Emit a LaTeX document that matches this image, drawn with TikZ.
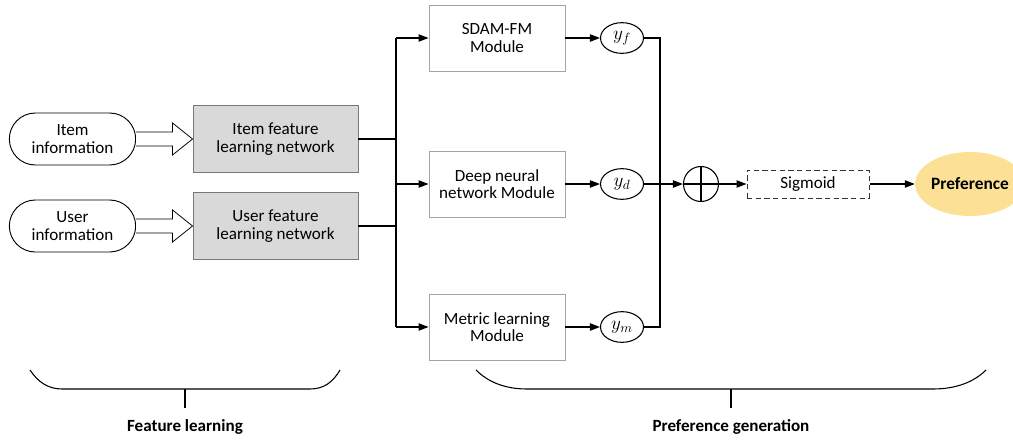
\documentclass[tikz,border=0pt]{standalone}
\usepackage{fontspec}
\setmainfont{Carlito}
\usetikzlibrary{arrows.meta,calc,shapes.geometric,shapes.misc}
\definecolor{featfill}{RGB}{217,217,217}
\definecolor{featdraw}{RGB}{120,120,120}
\definecolor{moddraw}{RGB}{165,165,165}
\definecolor{preffill}{RGB}{252,224,150}
\begin{document}
\begin{tikzpicture}[x=0.75pt,y=-0.75pt,
  txt/.style={font=\fontsize{12.8}{13.2}\selectfont, align=center},
  infobox/.style={txt, rounded rectangle, draw=black, line width=0.7pt, minimum width=96.75pt, minimum height=39pt, inner sep=1pt},
  featbox/.style={txt, rectangle, draw=featdraw, fill=featfill, line width=0.7pt, minimum width=123.75pt, minimum height=50.25pt},
  modbox/.style={txt, rectangle, draw=moddraw, fill=white, line width=0.7pt, minimum width=102pt, minimum height=49.5pt},
  outnode/.style={ellipse, draw=black, line width=0.8pt, minimum width=32.25pt, minimum height=23pt, inner sep=0pt, font=\fontsize{14}{14}\selectfont},
  conn/.style={line width=0.9pt, draw=black},
  arr/.style={conn, -{Triangle[length=7.5pt,width=5.5pt]}},
  hollow/.style={draw=black, fill=white, line width=0.6pt},
  brace/.style={line width=0.8pt, draw=black},
  lbl/.style={font=\bfseries\fontsize{12.8}{13}\selectfont}]
\useasboundingbox (0,0) rectangle (1013,439);

% left column
\node[infobox] (item) at (72.5,139) {Item\\information};
\node[infobox] (user) at (72.5,226) {User\\information};
\node[featbox] (itemf) at (275.5,139) {Item feature\\learning network};
\node[featbox] (userf) at (275.5,226) {User feature\\learning network};

% hollow arrows
\foreach \a/\b in {item/itemf,user/userf}{
  \draw[hollow] ($(\a.east)+(0,-7)$) -- ($(\b.west)+(-20,-7)$) -- ($(\b.west)+(-20,-16)$) -- (\b.west)
     -- ($(\b.west)+(-20,16)$) -- ($(\b.west)+(-20,7)$) -- ($(\a.east)+(0,7)$);
}

% modules
\node[modbox] (sdam) at (497,38) {SDAM-FM\\Module};
\node[modbox] (dnn) at (497,184) {Deep neural\\network Module};
\node[modbox] (metric) at (497,327) {Metric learning\\Module};

\node[outnode] (yf) at (622,38) {$y_f$};
\node[outnode] (yd) at (622,184) {$y_d$};
\node[outnode] (ym) at (622,327) {$y_m$};

\node[circle, draw=black, line width=0.8pt, minimum size=26.25pt, inner sep=0pt,
  path picture={\draw[line width=0.8pt] (path picture bounding box.north) -- (path picture bounding box.south)
     (path picture bounding box.west) -- (path picture bounding box.east);}] (sum) at (701,184) {};
\node[txt, rectangle, draw=black!80, dash pattern=on 4pt off 2.5pt, line width=0.75pt, minimum width=91.5pt, minimum height=21pt] (sig) at (808,184) {Sigmoid};
\node[ellipse, fill=preffill, minimum width=61.5pt, minimum height=48pt, inner sep=0pt, font=\bfseries\fontsize{13}{13}\selectfont] (pref) at (970,184) {Preference};

% buses
\coordinate (lb) at (396,0);
\coordinate (rb) at (660,0);
\draw[conn] (itemf.east) -- (itemf.east -| lb);
\draw[conn] (userf.east) -- (userf.east -| lb);
\draw[conn] (sdam.west -| lb) -- (metric.west -| lb);
\draw[arr] (sdam.west -| lb) -- (sdam.west);
\draw[arr] (dnn.west -| lb) -- (dnn.west);
\draw[arr] (metric.west -| lb) -- (metric.west);

\draw[arr] (sdam.east) -- (yf.west);
\draw[arr] (dnn.east) -- (yd.west);
\draw[arr] (metric.east) -- (ym.west);

\draw[conn] (yf.east) -- (yf.east -| rb) -- (ym.east -| rb) -- (ym.east);
\draw[arr] (yd.east) -- (sum.west);
\draw[arr] (sum.east) -- (sig.west);
\draw[arr] (sig.east) -- (pref.west);

% braces
\draw[brace] (30,370) .. controls (38,382) and (48,389) .. (62,389) -- (310,389) .. controls (324,389) and (333,382) .. (340,370);
\coordinate (lbm) at (185,389);
\coordinate (lbs) at (185,408);
\draw[brace] (lbm) -- (lbs);
\node[lbl] (fl) at (185,427) {Feature learning};

\draw[brace] (476,370) .. controls (488,382) and (505,389) .. (527,389) -- (933,389) .. controls (956,389) and (974,382) .. (986,370);
\coordinate (rbm) at (731,389);
\coordinate (rbs) at (731,408);
\draw[brace] (rbm) -- (rbs);
\node[lbl] (pg) at (731,427) {Preference generation};
\end{tikzpicture}
\end{document}
